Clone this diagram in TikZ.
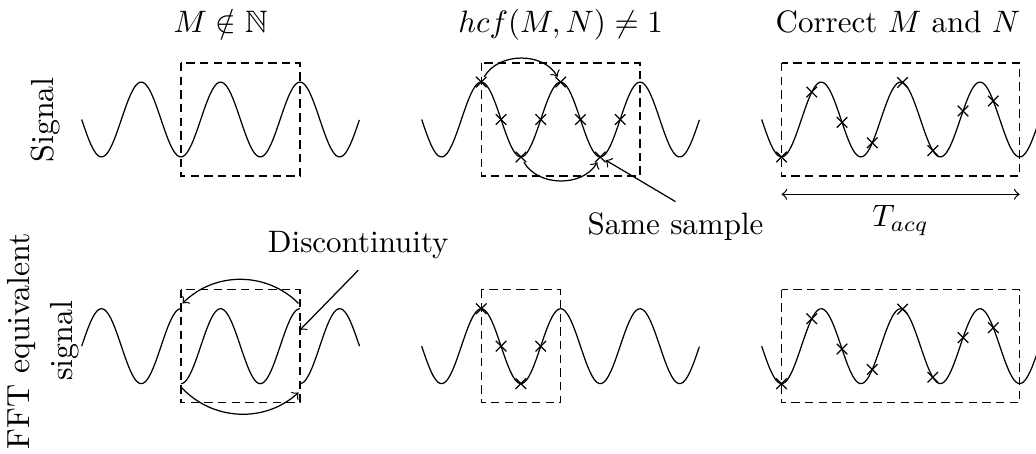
\documentclass[tikz,border=0pt]{standalone}
\usepackage{amsmath, amssymb}
\usetikzlibrary{shapes.misc}

\begin{document}
\begin{tikzpicture}[window/.style={dash pattern=on 2.7pt off 1.7pt}, sample/.style={cross out, draw, inner sep=0pt, minimum size=3pt}, side/.style={rotate=90, align=center, font=\fontsize{10.3}{13.8}\selectfont}]
    \useasboundingbox (0,0) rectangle (11.746,-5.147);

    \node (TitleA) [anchor=base] at (2.501,-0.368) {$M \notin \mathbb{N}$};
    \node (TitleB) [anchor=base] at (6.356,-0.368) {$hcf(M,N) \neq 1$};
    \node (TitleC) [anchor=base] at (10.18,-0.368) {Correct $M$ and $N$};
    \node (Signal) [side] at (0.52,-1.36) {Signal};
    \node (FftSignal) [side] at (0.49,-3.866) {FFT equivalent\\signal};

    \draw plot[domain=0.926:4.076, samples=120] (\x, {-1.355-0.425*sin(400*(\x-0.926))});
    \draw[window] (2.051,-0.715) rectangle (3.401,-1.995);

    \draw plot[domain=4.781:7.931, samples=120] (\x, {-1.355-0.425*sin(400*(\x-4.781))});
    \draw[window] (5.456,-0.715) rectangle (7.256,-1.995);
    \foreach \k in {0,...,7}
        \node (TopB\k) [sample] at ({5.456+0.225*\k}, {-1.355-0.425*sin(400*(5.456+0.225*\k-4.781))}) {};
    \draw[->] (TopB0) to[bend left=60] (TopB4);
    \draw[->] (TopB2) to[bend right=60] (TopB6);
    \node (SameSample) at (7.659,-2.568) {Same sample};
    \draw[->] (SameSample.north) -- (TopB6);

    \draw plot[domain=8.636:11.786, samples=120] (\x, {-1.355-0.425*sin(400*(\x-8.636))});
    \draw[window] (8.861,-0.715) rectangle (11.561,-1.995);
    \foreach \k in {0,...,7}
        \node (TopC\k) [sample] at ({8.861+0.343*\k}, {-1.355-0.425*sin(400*(8.861+0.343*\k-8.636))}) {};
    \coordinate (AcqStart) at (8.861,-2.203);
    \coordinate (AcqEnd) at (11.561,-2.203);
    \draw[<->] (AcqStart) -- (AcqEnd) node[midway, below] {$T_{acq}$};

    \draw plot[domain=0.926:2.051, samples=60] (\x, {-3.925-0.425*cos(400*(\x-0.701))});
    \draw plot[domain=2.051:3.401, samples=80] (\x, {-3.925-0.425*cos(400*(\x-2.051))});
    \draw plot[domain=3.401:4.076, samples=40] (\x, {-3.925-0.425*cos(400*(\x-3.401))});
    \draw[window] (2.051,-3.285) rectangle (3.401,-4.565);
    \coordinate (EndTop) at (3.385,-3.44);
    \coordinate (StartTop) at (2.07,-3.44);
    \coordinate (StartBot) at (2.051,-4.385);
    \coordinate (EndBot) at (3.385,-4.45);
    \draw[->] (EndTop) to[bend right=45] (StartTop);
    \draw[->] (StartBot) to[bend right=45] (EndBot);
    \node (Discontinuity) at (4.062,-2.784) {Discontinuity};
    \coordinate (Jump) at (3.401,-3.741);
    \draw[->] (Discontinuity.south) -- (Jump);

    \draw plot[domain=4.781:7.931, samples=120] (\x, {-3.925-0.425*sin(400*(\x-4.781))});
    \draw[window] (5.456,-3.285) rectangle (6.356,-4.565);
    \foreach \k in {0,...,3}
        \node (BotB\k) [sample] at ({5.456+0.225*\k}, {-3.925-0.425*sin(400*(5.456+0.225*\k-4.781))}) {};

    \draw plot[domain=8.636:11.786, samples=120] (\x, {-3.925-0.425*sin(400*(\x-8.636))});
    \draw[window] (8.861,-3.285) rectangle (11.561,-4.565);
    \foreach \k in {0,...,7}
        \node (BotC\k) [sample] at ({8.861+0.343*\k}, {-3.925-0.425*sin(400*(8.861+0.343*\k-8.636))}) {};
\end{tikzpicture}
\end{document}
